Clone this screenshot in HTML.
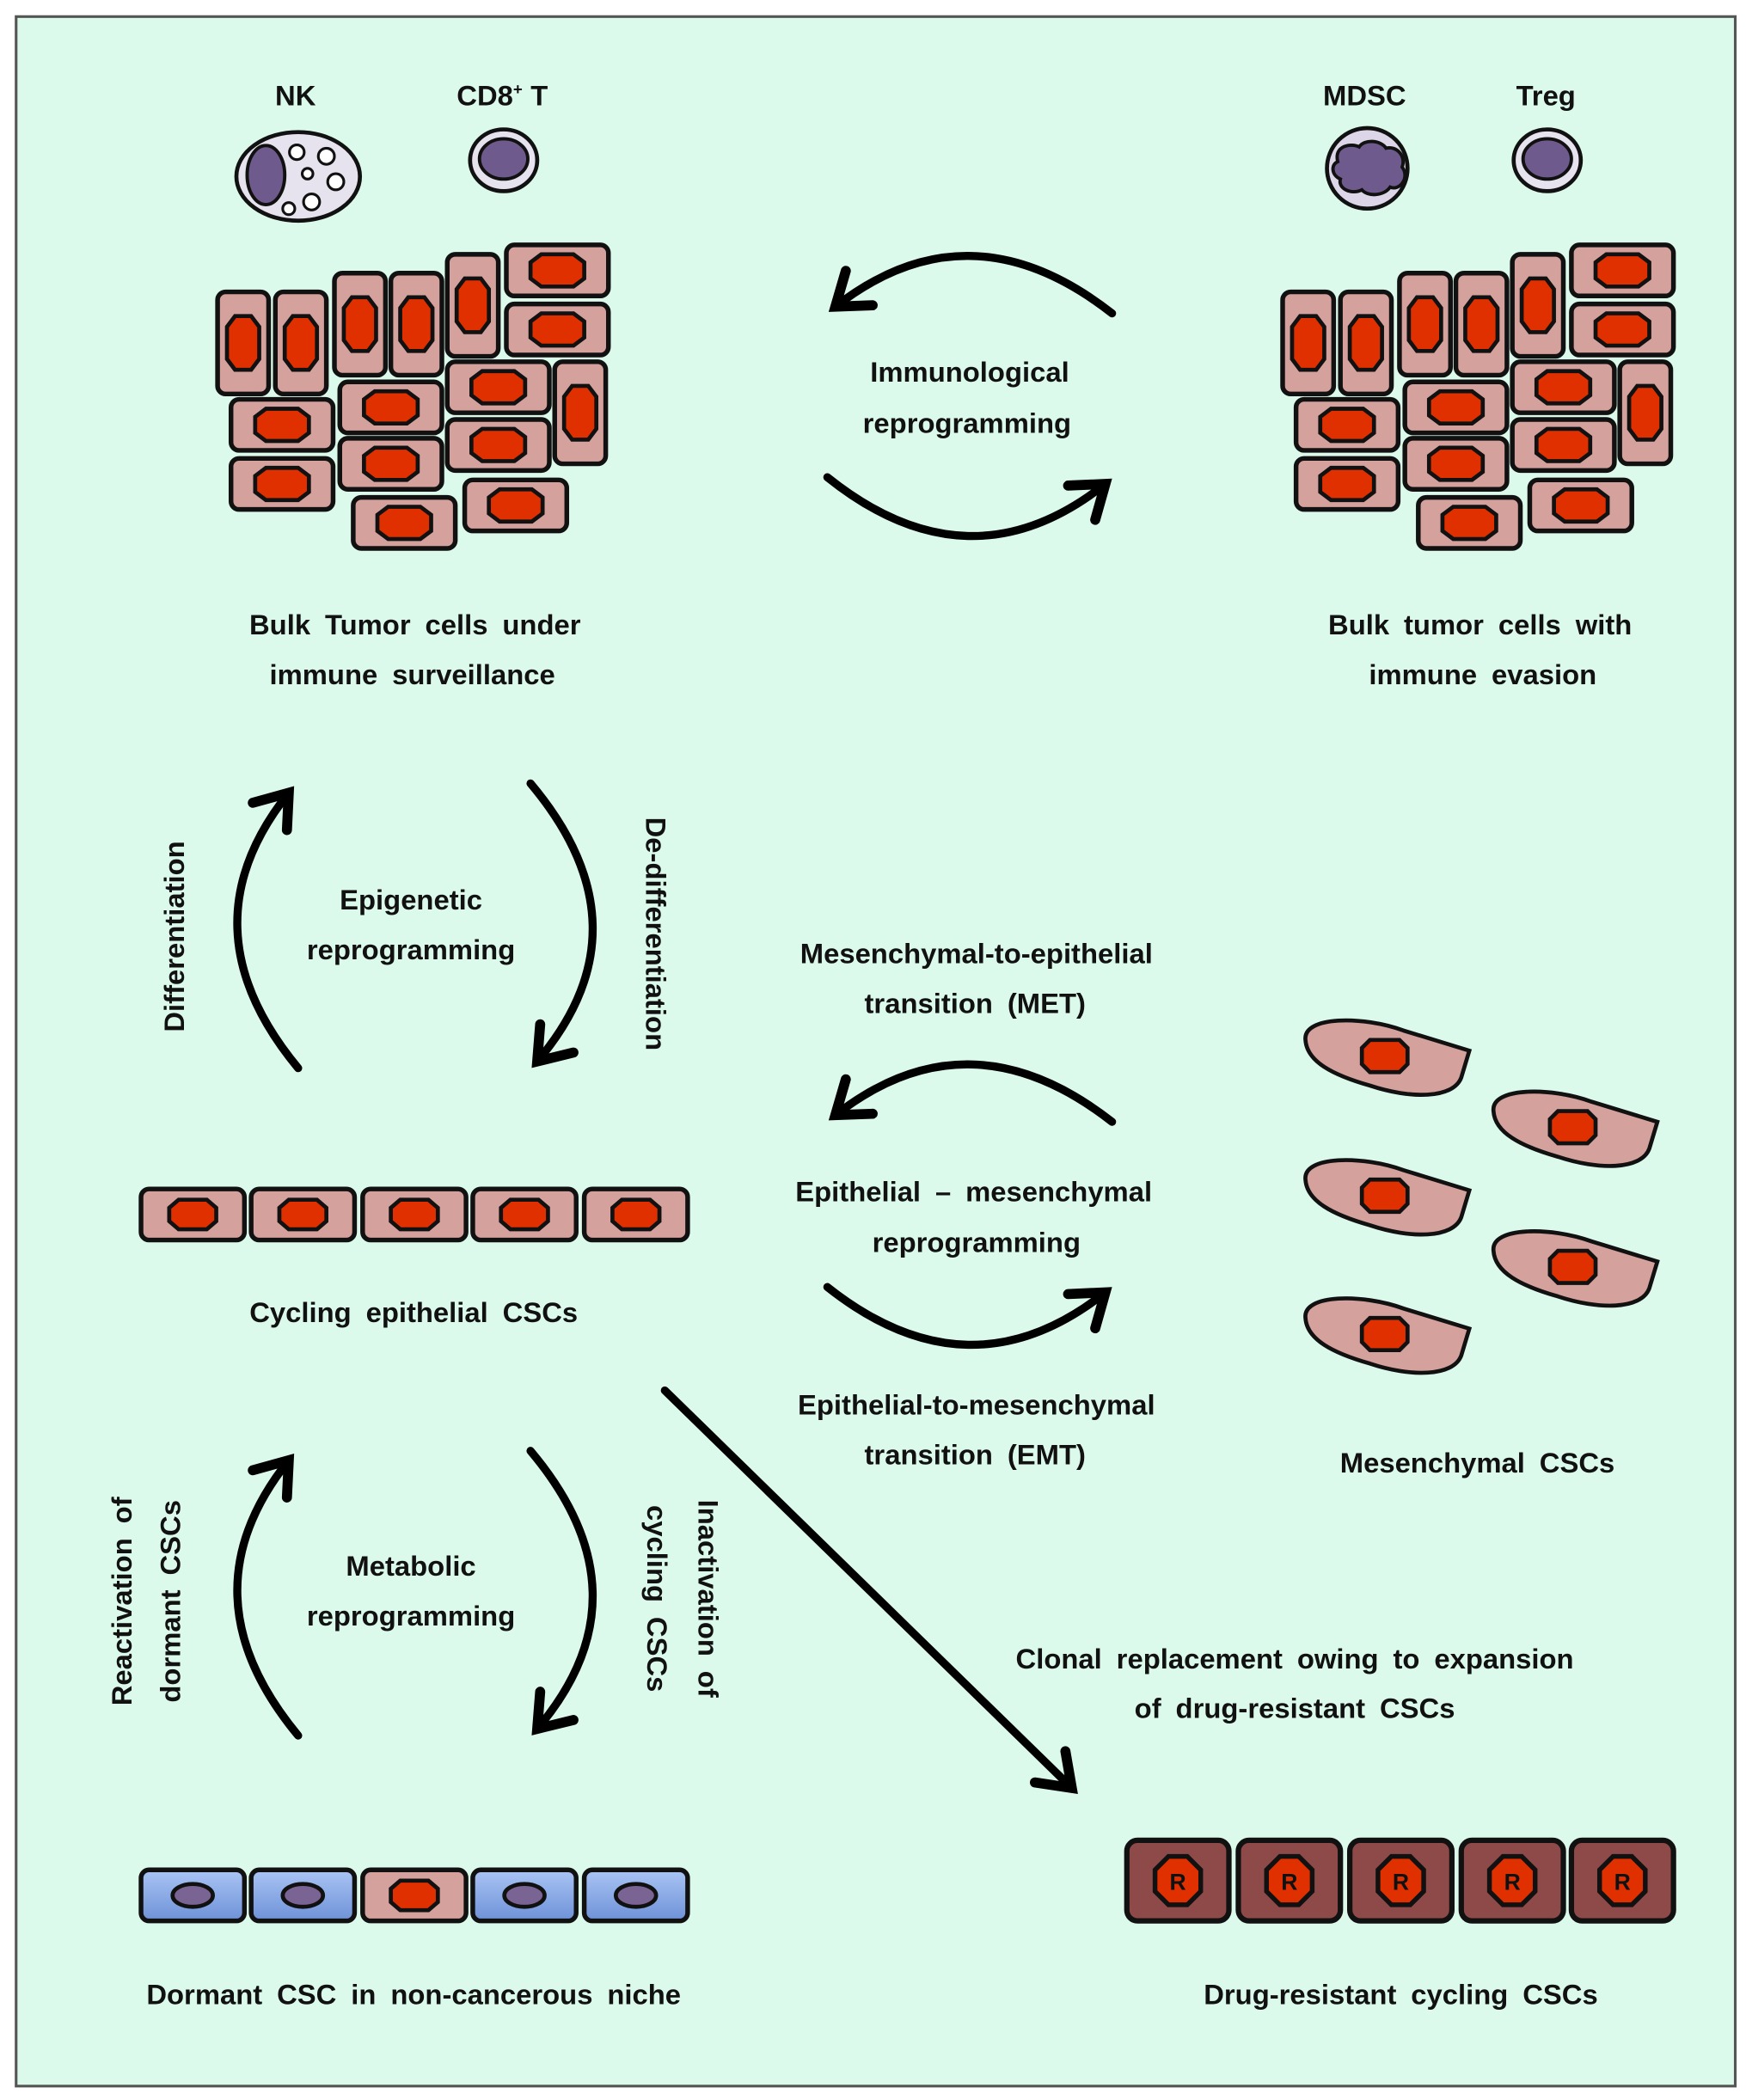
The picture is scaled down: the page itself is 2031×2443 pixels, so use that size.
<!DOCTYPE html>
<html><head><meta charset="utf-8"><style>
html,body{margin:0;padding:0;background:#fff}
svg{display:block}
text{font-family:"Liberation Sans",sans-serif;font-weight:bold;font-size:21px;fill:#111;word-spacing:5px}
</style></head><body>
<svg width="2031" height="2443" viewBox="0 0 1300 1563" xmlns="http://www.w3.org/2000/svg">
<defs>
<marker id="ah" markerUnits="userSpaceOnUse" markerWidth="40" markerHeight="40" viewBox="-22 -16 26 32" refX="0" refY="0" orient="auto">
<path d="M-18,-13 L0,0 L-18,13" fill="none" stroke="#000" stroke-width="6" stroke-linecap="round" stroke-linejoin="miter"/>
</marker>
<g id="hc"><rect x="0" y="0" width="76" height="38" rx="6" fill="#d4a19c" stroke="#111" stroke-width="3.5"/><path d="M26,7 L50,7 L58,13 L58,25 L50,31 L26,31 L18,25 L18,13 Z" fill="#e03000" stroke="#111" stroke-width="3"/></g>
<g id="vc"><rect x="0" y="0" width="38" height="76" rx="6" fill="#d4a19c" stroke="#111" stroke-width="3.5"/><path d="M7,26 L7,50 L13,58 L25,58 L31,50 L31,26 L25,18 L13,18 Z" fill="#e03000" stroke="#111" stroke-width="3"/></g>
<g id="ec"><rect x="0" y="0" width="77" height="38" rx="6" fill="#d4a19c" stroke="#111" stroke-width="3.5"/><path d="M28,8 L49,8 L56,14 L56,24 L49,30 L28,30 L21,24 L21,14 Z" fill="#e03000" stroke="#111" stroke-width="3"/></g>
<linearGradient id="bl" x1="0" y1="0" x2="0" y2="1"><stop offset="0" stop-color="#aac4f4"/><stop offset="1" stop-color="#6e92d8"/></linearGradient>
<g id="dc"><rect x="0" y="0" width="77" height="38" rx="6" fill="url(#bl)" stroke="#111" stroke-width="3.5"/><ellipse cx="38.5" cy="19" rx="15" ry="8.5" fill="#7a6494" stroke="#111" stroke-width="3"/></g>
<g id="rc"><rect x="0" y="0" width="76" height="60" rx="8" fill="#8e4a48" stroke="#111" stroke-width="4"/><path d="M31,12 L45,12 L55,22 L55,38 L45,48 L31,48 L21,38 L21,22 Z" fill="#e03000" stroke="#111" stroke-width="3.5"/><text x="38" y="37" text-anchor="middle" style="font-size:17px">R</text></g>
<g id="mc"><path d="M2,16 C0,-2 45,-2 75,9 L124,24 L118,44 C112,60 80,60 50,50 C22,42 3,32 2,16 Z" fill="#d4a19c" stroke="#111" stroke-width="3"/><path d="M50,16 L72,16 L78,22 L78,34 L72,40 L50,40 L44,34 L44,22 Z" fill="#e03000" stroke="#111" stroke-width="3"/></g>
<g id="tum">
<use href="#vc" x="162" y="217"/><use href="#vc" x="205" y="217"/><use href="#vc" x="249" y="203"/><use href="#vc" x="291" y="203"/><use href="#vc" x="333" y="189"/>
<use href="#hc" x="377" y="182"/><use href="#hc" x="377" y="226"/>
<use href="#hc" x="172" y="297"/><use href="#hc" x="172" y="341"/>
<use href="#hc" x="253" y="284"/><use href="#hc" x="253" y="326"/>
<use href="#hc" x="333" y="269"/><use href="#hc" x="333" y="312"/>
<use href="#vc" x="413" y="269"/>
<use href="#hc" x="263" y="370"/><use href="#hc" x="346" y="357"/>
</g>
</defs>
<rect x="0" y="0" width="1300" height="1563" fill="#fff"/>
<rect x="12" y="12" width="1280" height="1541" fill="#dcfaec" stroke="#555" stroke-width="2"/>

<text x="220" y="78" text-anchor="middle">NK</text>
<text x="374" y="78" text-anchor="middle">CD8<tspan dy="-8" style="font-size:12px">+</tspan><tspan dy="8" dx="6">T</tspan></text>
<ellipse cx="222" cy="131" rx="46" ry="33" fill="#e6e2ee" stroke="#111" stroke-width="3"/>
<ellipse cx="198" cy="130" rx="14" ry="22" fill="#6e5a8c" stroke="#111" stroke-width="2.5"/>
<g fill="#fff" stroke="#111" stroke-width="2"><circle cx="221" cy="113" r="5.5"/><circle cx="243" cy="116" r="6"/><circle cx="229" cy="129" r="4"/><circle cx="250" cy="135" r="6"/><circle cx="232" cy="150" r="6"/><circle cx="215" cy="155" r="4.5"/></g>
<ellipse cx="375" cy="119" rx="25" ry="23" fill="#e6e2ee" stroke="#111" stroke-width="3"/>
<ellipse cx="375" cy="118" rx="18" ry="15" fill="#6e5a8c" stroke="#111" stroke-width="2.5"/>
<text x="1016" y="78" text-anchor="middle">MDSC</text>
<text x="1151" y="78" text-anchor="middle">Treg</text>
<circle cx="1018" cy="125" r="30" fill="#ddd6e8" stroke="#111" stroke-width="3"/>
<path d="M996,120 C993,108 1006,106 1012,109 C1016,103 1028,104 1032,110 C1040,108 1047,116 1044,124 C1050,132 1042,142 1035,139 C1030,146 1018,146 1014,141 C1006,145 996,140 998,133 C991,130 991,122 996,120 Z" fill="#6e5a8c" stroke="#111" stroke-width="2.5"/>
<ellipse cx="1152" cy="119" rx="25" ry="23" fill="#e6e2ee" stroke="#111" stroke-width="3"/>
<ellipse cx="1152" cy="118" rx="18" ry="15" fill="#6e5a8c" stroke="#111" stroke-width="2.5"/>

<use href="#tum"/>
<use href="#tum" x="793"/>

<g fill="none" stroke="#000" stroke-width="6" stroke-linecap="round">
<path d="M828,233 Q722,150 622,228" marker-end="url(#ah)"/>
<path d="M616,355 Q722,440 823,360" marker-end="url(#ah)"/>
<path d="M222,795 Q135,690 215,590" marker-end="url(#ah)"/>
<path d="M395,583 Q485,690 400,790" marker-end="url(#ah)"/>
<path d="M222,1292 Q135,1187 215,1087" marker-end="url(#ah)"/>
<path d="M395,1080 Q485,1187 400,1287" marker-end="url(#ah)"/>
<path d="M828,835 Q722,752 622,830" marker-end="url(#ah)"/>
<path d="M616,958 Q722,1042 823,962" marker-end="url(#ah)"/>
<path d="M495,1035 L798,1331" marker-end="url(#ah)"/>
</g>

<text x="722" y="284" text-anchor="middle">Immunological</text>
<text x="720" y="322" text-anchor="middle">reprogramming</text>
<text x="309" y="472" text-anchor="middle">Bulk Tumor cells under</text>
<text x="307" y="509" text-anchor="middle">immune surveillance</text>
<text x="1102" y="472" text-anchor="middle">Bulk tumor cells with</text>
<text x="1104" y="509" text-anchor="middle">immune evasion</text>

<text x="306" y="677" text-anchor="middle">Epigenetic</text>
<text x="306" y="714" text-anchor="middle">reprogramming</text>
<text transform="translate(137,697) rotate(-90)" text-anchor="middle">Differentiation</text>
<text transform="translate(481,695) rotate(90)" text-anchor="middle">De-differentiation</text>

<text x="727" y="717" text-anchor="middle">Mesenchymal-to-epithelial</text>
<text x="726" y="754" text-anchor="middle">transition (MET)</text>
<text x="725" y="894" text-anchor="middle">Epithelial – mesenchymal</text>
<text x="727" y="932" text-anchor="middle">reprogramming</text>
<text x="727" y="1053" text-anchor="middle">Epithelial-to-mesenchymal</text>
<text x="726" y="1090" text-anchor="middle">transition (EMT)</text>

<use href="#ec" x="105" y="885"/><use href="#ec" x="187" y="885"/><use href="#ec" x="270" y="885"/><use href="#ec" x="352" y="885"/><use href="#ec" x="435" y="885"/>
<text x="308" y="984" text-anchor="middle">Cycling epithelial CSCs</text>

<use href="#mc" x="970" y="758"/><use href="#mc" x="1110" y="811"/><use href="#mc" x="970" y="862"/><use href="#mc" x="1110" y="915"/><use href="#mc" x="970" y="965"/>
<text x="1100" y="1096" text-anchor="middle">Mesenchymal CSCs</text>

<text x="306" y="1173" text-anchor="middle">Metabolic</text>
<text x="306" y="1210" text-anchor="middle">reprogramming</text>
<text transform="translate(98,1192) rotate(-90)" text-anchor="middle">Reactivation of</text>
<text transform="translate(134,1192) rotate(-90)" text-anchor="middle">dormant CSCs</text>
<text transform="translate(520,1190) rotate(90)" text-anchor="middle">Inactivation of</text>
<text transform="translate(482,1190) rotate(90)" text-anchor="middle">cycling CSCs</text>

<text x="964" y="1242" text-anchor="middle">Clonal replacement owing to expansion</text>
<text x="964" y="1279" text-anchor="middle">of drug-resistant CSCs</text>

<use href="#dc" x="105" y="1392"/><use href="#dc" x="187" y="1392"/><use href="#ec" x="270" y="1392"/><use href="#dc" x="352" y="1392"/><use href="#dc" x="435" y="1392"/>
<text x="308" y="1492" text-anchor="middle">Dormant CSC in non-cancerous niche</text>

<use href="#rc" x="839" y="1370"/><use href="#rc" x="922" y="1370"/><use href="#rc" x="1005" y="1370"/><use href="#rc" x="1088" y="1370"/><use href="#rc" x="1170" y="1370"/>
<text x="1043" y="1492" text-anchor="middle">Drug-resistant cycling CSCs</text>
</svg>
</body></html>
